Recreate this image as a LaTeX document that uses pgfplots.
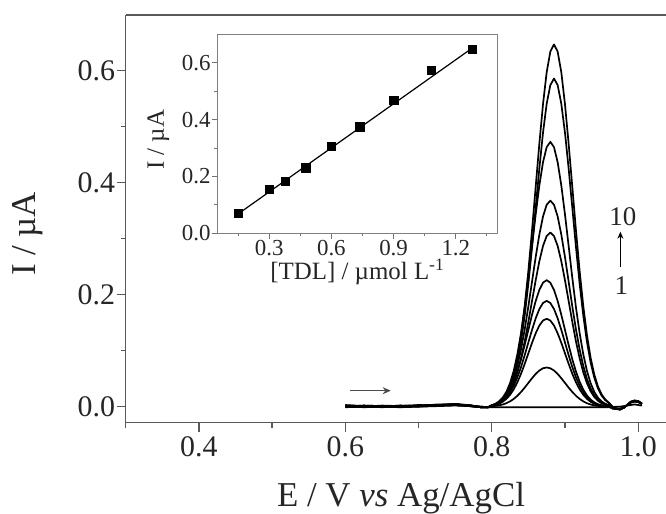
\documentclass[border=0pt]{standalone}
\usepackage{fontspec}
\setmainfont{Liberation Serif}
\usepackage{pgfplots}
\usepackage{pgfplotstable}
\pgfplotsset{compat=1.18}
\usetikzlibrary{arrows.meta}

\pgfplotstableread{
x c1 c2 c3 c4 c5 c6 c7 c8 c9 c10
0.600 0.001 0.002 0.000 0.001 -0.001 0.002 0.000 0.001 0.003 0.000
0.625 0.000 0.001 0.001 -0.001 0.000 0.001 0.002 0.000 0.001 0.002
0.650 0.000 0.000 0.001 0.000 0.001 -0.001 0.001 0.002 0.000 0.001
0.675 -0.001 0.001 0.000 0.002 0.000 0.001 0.000 0.001 0.002 0.000
0.700 0.000 0.002 0.001 0.001 0.002 0.000 0.001 0.003 0.001 0.002
0.725 0.001 0.003 0.002 0.003 0.002 0.002 0.003 0.002 0.004 0.003
0.750 0.002 0.004 0.003 0.005 0.003 0.004 0.004 0.005 0.004 0.003
0.770 0.001 0.002 0.001 0.002 0.001 0.003 0.002 0.002 0.001 0.002
0.785 0.000 -0.001 -0.001 0.000 -0.001 -0.001 0.000 -0.001 -0.001 -0.001
0.795 -0.001 -0.001 -0.001 -0.001 -0.001 -0.001 -0.001 -0.001 -0.001 -0.001
0.800 -0.001 .0008 .0017 .0021 .0025 .0019 .0022 .0028 .0018 .0019
0.805 -0.001 .0014 .0031 .0038 .0045 .0034 .0040 .0052 .0035 .0039
0.810 -0.001 .0024 .0053 .0064 .0077 .0062 .0074 .0095 .0064 .0071
0.815 -0.001 .0039 .0088 .0106 .0127 .0106 .0125 .0161 .0117 .0129
0.820 -0.001 .0062 .0140 .0168 .0201 .0174 .0206 .0265 .0199 .0220
0.825 -0.001 .0095 .0212 .0255 .0305 .0277 .0328 .0421 .0328 .0362
0.830 -0.001 .0139 .0311 .0374 .0447 .0420 .0497 .0639 .0522 .0576
0.835 -0.001 .0195 .0436 .0525 .0628 .0616 .0729 .0937 .0791 .0873
0.840 -0.001 .0263 .0589 .0709 .0848 .0865 .1023 .1315 .1160 .1281
0.845 -0.001 .0341 .0765 .0920 .1101 .1166 .1380 .1774 .1629 .1799
0.850 -0.001 .0425 .0953 .1147 .1372 .1515 .1792 .2304 .2198 .2426
0.855 -0.001 .0508 .1140 .1372 .1641 .1888 .2234 .2871 .2854 .3151
0.860 -0.001 .0585 .1311 .1578 .1887 .2258 .2672 .3434 .3557 .3927
0.865 -0.001 .0646 .1449 .1744 .2086 .2597 .3073 .3950 .4254 .4697
0.870 -0.001 .0686 .1539 .1852 .2215 .2871 .3397 .4366 .4893 .5402
0.875 -0.001 .0700 .1570 .1890 .2260 .3048 .3606 .4635 .5409 .5972
0.880 -0.001 .0686 .1539 .1852 .2215 .3110 .3680 .4730 .5743 .6341
0.885 -0.001 .0646 .1449 .1744 .2086 .3048 .3606 .4635 .5860 .6470
0.890 -0.001 .0585 .1311 .1578 .1887 .2871 .3397 .4366 .5743 .6341
0.895 -0.001 .0508 .1140 .1372 .1641 .2597 .3073 .3950 .5409 .5972
0.900 -0.001 .0425 .0953 .1147 .1372 .2258 .2672 .3434 .4893 .5402
0.905 -0.001 .0341 .0765 .0920 .1101 .1888 .2234 .2871 .4254 .4697
0.910 -0.001 .0263 .0589 .0709 .0848 .1515 .1792 .2304 .3557 .3927
0.915 -0.001 .0195 .0436 .0525 .0628 .1166 .1380 .1774 .2854 .3151
0.920 -0.001 .0139 .0311 .0374 .0447 .0865 .1023 .1315 .2198 .2426
0.925 -0.001 .0095 .0212 .0255 .0305 .0616 .0729 .0937 .1629 .1799
0.930 -0.001 .0062 .0140 .0168 .0201 .0420 .0497 .0639 .1160 .1281
0.935 -0.001 .0039 .0088 .0106 .0127 .0277 .0328 .0421 .0791 .0873
0.940 -0.001 .0024 .0053 .0064 .0077 .0174 .0206 .0265 .0522 .0576
0.945 -0.001 .0014 .0031 .0038 .0045 .0106 .0125 .0161 .0328 .0362
0.950 -0.001 .0008 .0017 .0021 .0025 .0062 .0074 .0095 .0199 .0220
0.955 -0.001 .0004 .0009 .0011 .0014 .0034 .0040 .0052 .0117 .0129
0.960 -0.001 .0002 .0005 .0006 .0007 .0019 .0022 .0028 .0064 .0071
0.965 -0.001 -0.003 -0.003 -0.003 -0.003 -0.002 -0.002 -0.002 0.000 0.000
0.970 0.000 -0.004 -0.004 -0.004 -0.004 -0.004 -0.004 -0.004 -0.003 -0.003
0.975 0.000 -0.004 -0.005 -0.004 -0.005 -0.004 -0.005 -0.004 -0.005 -0.004
0.980 0.001 -0.002 -0.002 -0.002 -0.002 -0.002 -0.002 -0.002 -0.002 -0.002
0.985 0.002 0.003 0.003 0.003 0.003 0.003 0.003 0.003 0.003 0.003
0.990 0.003 0.008 0.008 0.007 0.008 0.009 0.008 0.008 0.009 0.008
0.995 0.004 0.010 0.010 0.009 0.010 0.011 0.010 0.010 0.011 0.010
1.000 0.003 0.009 0.009 0.008 0.009 0.010 0.009 0.009 0.010 0.009
1.005 0.002 0.005 0.005 0.005 0.005 0.006 0.005 0.005 0.006 0.005
}\dpv

\pgfplotstableread{
x y
0.150 0.070
0.300 0.155
0.377 0.184
0.476 0.231
0.598 0.307
0.737 0.375
0.900 0.469
1.080 0.573
1.280 0.648
}\calib

\begin{document}
\begin{tikzpicture}
\begin{axis}[
  scale only axis, width=540.3bp, height=407.7bp,
  at={(125.7bp,91.3bp)}, anchor=south west,
  xmin=0.3, xmax=1.038, ymin=-0.0286, ymax=0.6995,
  axis x line=box, axis y line*=left,
  axis line style={-, draw=black!65, line width=1.5bp},
  every outer x axis line/.append style={-},
  every outer y axis line/.append style={-},
  every inner x axis line/.append style={-},
  every inner y axis line/.append style={-},
  xtick pos=left, ytick pos=left,
  tick align=outside,
  major tick length=9bp, minor tick length=5bp,
  every tick/.style={draw=black!65, line width=1.3bp},
  xtick={0.4,0.6,0.8,1.0}, minor xtick={0.3,0.5,0.7,0.9},
  ytick={0,0.2,0.4,0.6}, minor ytick={0.1,0.3,0.5},
  /pgf/number format/.cd, fixed, fixed zerofill, precision=1, assume math mode=true,
  /pgfplots/.cd,
  tick label style={font=\fontsize{30}{30}\selectfont, text=black!85},
  xticklabel style={inner sep=5bp},
  yticklabel style={inner sep=1.5bp},
  xlabel={E / V \textit{vs} Ag/AgCl},
  ylabel={I / µA},
  label style={font=\fontsize{35}{35}\selectfont, text=black!85, inner sep=1bp},
  xlabel style={at={(axis description cs:0.5095,0)}, anchor=base, yshift=-84bp},
  ylabel style={at={(axis description cs:0,0.463)}, anchor=base, yshift=90bp},
  clip=false,
]
\addplot[black, line width=1.7bp, line join=round] table[x=x,y=c1]{\dpv};
\addplot[black, line width=1.7bp, line join=round] table[x=x,y=c2]{\dpv};
\addplot[black, line width=1.7bp, line join=round] table[x=x,y=c3]{\dpv};
\addplot[black, line width=1.7bp, line join=round] table[x=x,y=c4]{\dpv};
\addplot[black, line width=1.7bp, line join=round] table[x=x,y=c5]{\dpv};
\addplot[black, line width=1.7bp, line join=round] table[x=x,y=c6]{\dpv};
\addplot[black, line width=1.7bp, line join=round] table[x=x,y=c7]{\dpv};
\addplot[black, line width=1.7bp, line join=round] table[x=x,y=c8]{\dpv};
\addplot[black, line width=1.7bp, line join=round] table[x=x,y=c9]{\dpv};
\addplot[black, line width=1.7bp, line join=round] table[x=x,y=c10]{\dpv};
\draw[black!70, line width=1.6bp, -{Stealth[length=8bp,width=7bp]}] (axis cs:0.607,0.0286) -- (axis cs:0.662,0.0286);
\draw[black, line width=1.3bp, -{Stealth[length=7bp,width=6bp]}] (axis cs:0.9757,0.249) -- (axis cs:0.9757,0.3125);
\node[font=\fontsize{27}{27}\selectfont, text=black!85] at (axis cs:0.979,0.339) {10};
\node[font=\fontsize{27}{27}\selectfont, text=black!85] at (axis cs:0.977,0.217) {1};
\end{axis}

\begin{axis}[
  scale only axis, width=280bp, height=199bp,
  at={(217.3bp,280.7bp)}, anchor=south west,
  xmin=0.05, xmax=1.4, ymin=0, ymax=0.7,
  axis background/.style={fill=white},
  axis line style={draw=black!50, line width=1.1bp},
  tick align=outside, xtick pos=left, ytick pos=left,
  major tick length=5.7bp, minor tick length=3bp,
  every tick/.style={draw=black!55, line width=1bp},
  xtick={0.3,0.6,0.9,1.2}, minor xtick={0.15,0.45,0.75,1.05,1.35},
  ytick={0,0.2,0.4,0.6}, minor ytick={0.1,0.3,0.5},
  /pgf/number format/.cd, fixed, fixed zerofill, precision=1, assume math mode=true,
  /pgfplots/.cd,
  tick label style={font=\fontsize{23}{23}\selectfont, text=black!85},
  xticklabel style={inner sep=1bp},
  yticklabel style={inner sep=0.8bp},
  xlabel={[TDL] / µmol L\textsuperscript{-1}},
  ylabel={I / µA},
  label style={font=\fontsize{25}{25}\selectfont, text=black!85, inner sep=0bp},
  xlabel style={at={(axis description cs:0.5,0)}, anchor=base, yshift=-46.5bp},
  ylabel style={at={(axis description cs:0,0.47)}, anchor=base, yshift=53.5bp},
]
\addplot[black, line width=1.2bp, no markers] coordinates {(0.15,0.068) (1.28,0.652)};
\addplot[black, only marks, mark=square*, mark size=4.2bp] table[x=x,y=y]{\calib};
\end{axis}
\pgfresetboundingbox
\path[use as bounding box] (0,0) rectangle (666bp,514bp);
\end{tikzpicture}
\end{document}
